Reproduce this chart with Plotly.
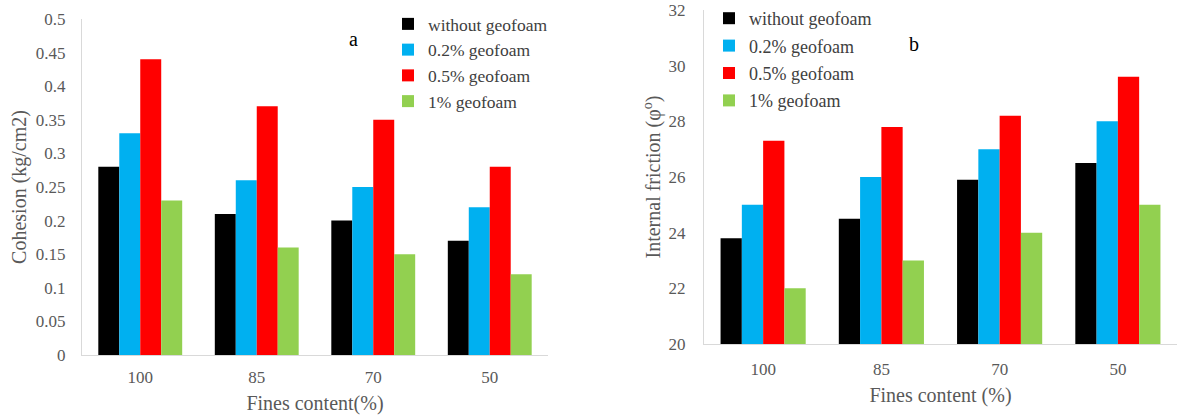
import plotly.graph_objects as go

W, H = 1177, 416

fines = ["100", "85", "70", "50"]
series_names = ["without geofoam", "0.2% geofoam", "0.5% geofoam", "1% geofoam"]
series_colors = ["#000000", "#00B0F0", "#FF0000", "#92D050"]

cohesion = [
    [0.28, 0.21, 0.20, 0.17],
    [0.33, 0.26, 0.25, 0.22],
    [0.44, 0.37, 0.35, 0.28],
    [0.23, 0.16, 0.15, 0.12],
]
friction = [
    [23.8, 24.5, 25.9, 26.5],
    [25.0, 26.0, 27.0, 28.0],
    [27.3, 27.8, 28.2, 29.6],
    [22.0, 23.0, 24.0, 25.0],
]


def px_x(p):
    return p / W


def px_y(p):
    return 1 - p / H


SERIF = "Liberation Serif"
GRAY = "#595959"

fig = go.Figure()
for i, name in enumerate(series_names):
    fig.add_trace(go.Bar(
        x=fines, y=cohesion[i], name=name, marker_color=series_colors[i],
        marker_line_width=0, xaxis="x", yaxis="y", legend="legend",
        legendgroup="a%d" % i,
    ))
for i, name in enumerate(series_names):
    fig.add_trace(go.Bar(
        x=fines, y=friction[i], name=name, marker_color=series_colors[i],
        marker_line_width=0, xaxis="x2", yaxis="y2", legend="legend2",
        legendgroup="b%d" % i,
    ))

axis_common = dict(
    showgrid=False, zeroline=False, showline=True, linecolor="#D9D9D9",
    linewidth=1, ticks="", automargin=False,
    tickfont=dict(family=SERIF, size=17, color=GRAY),
)

fig.update_layout(
    width=W, height=H,
    margin=dict(l=0, r=0, t=0, b=0, autoexpand=False),
    paper_bgcolor="white", plot_bgcolor="white",
    barmode="group", bargap=0.28, bargroupgap=0,
    font=dict(family=SERIF, color=GRAY),
    xaxis=dict(domain=[px_x(82), px_x(548)], anchor="y",
               title=dict(text="Fines content(%)", font=dict(family=SERIF, size=20, color=GRAY), standoff=9),
               ticklabelstandoff=7, **axis_common),
    yaxis=dict(domain=[px_y(355), px_y(19)], anchor="x", range=[0, 0.5], dtick=0.05,
               tickformat="~g",
               title=dict(text="Cohesion (kg/cm2)", font=dict(family=SERIF, size=20, color=GRAY), standoff=3),
               ticklabelstandoff=12, **axis_common),
    xaxis2=dict(domain=[px_x(704), px_x(1177)], anchor="y2",
                title=dict(text="Fines content (%)", font=dict(family=SERIF, size=20, color=GRAY), standoff=9),
                ticklabelstandoff=10, **axis_common),
    yaxis2=dict(domain=[px_y(344), px_y(10)], anchor="x2", range=[20, 32], dtick=2,
                title=dict(text="Internal friction (φ<sup>o</sup>)", font=dict(family=SERIF, size=20, color=GRAY), standoff=2),
                ticklabelstandoff=14, **axis_common),
    legend=dict(x=px_x(388), y=px_y(6), xanchor="left", yanchor="top",
                bgcolor="rgba(0,0,0,0)", font=dict(family=SERIF, size=17.5, color="#404040"),
                traceorder="normal", tracegroupgap=0, itemclick=False),
    legend2=dict(x=px_x(709), y=px_y(0), xanchor="left", yanchor="top",
                 bgcolor="rgba(0,0,0,0)", font=dict(family=SERIF, size=18, color="#404040"),
                 traceorder="grouped", tracegroupgap=1, itemclick=False),
    annotations=[
        dict(text="a", x=px_x(353), y=px_y(39), xref="paper", yref="paper",
             xanchor="center", yanchor="middle",
             showarrow=False, font=dict(family=SERIF, size=20, color="#000000")),
        dict(text="b", x=px_x(914), y=px_y(44), xref="paper", yref="paper",
             xanchor="center", yanchor="middle",
             showarrow=False, font=dict(family=SERIF, size=20, color="#000000")),
    ],
    showlegend=True,
)

fig.write_html("out.html")
